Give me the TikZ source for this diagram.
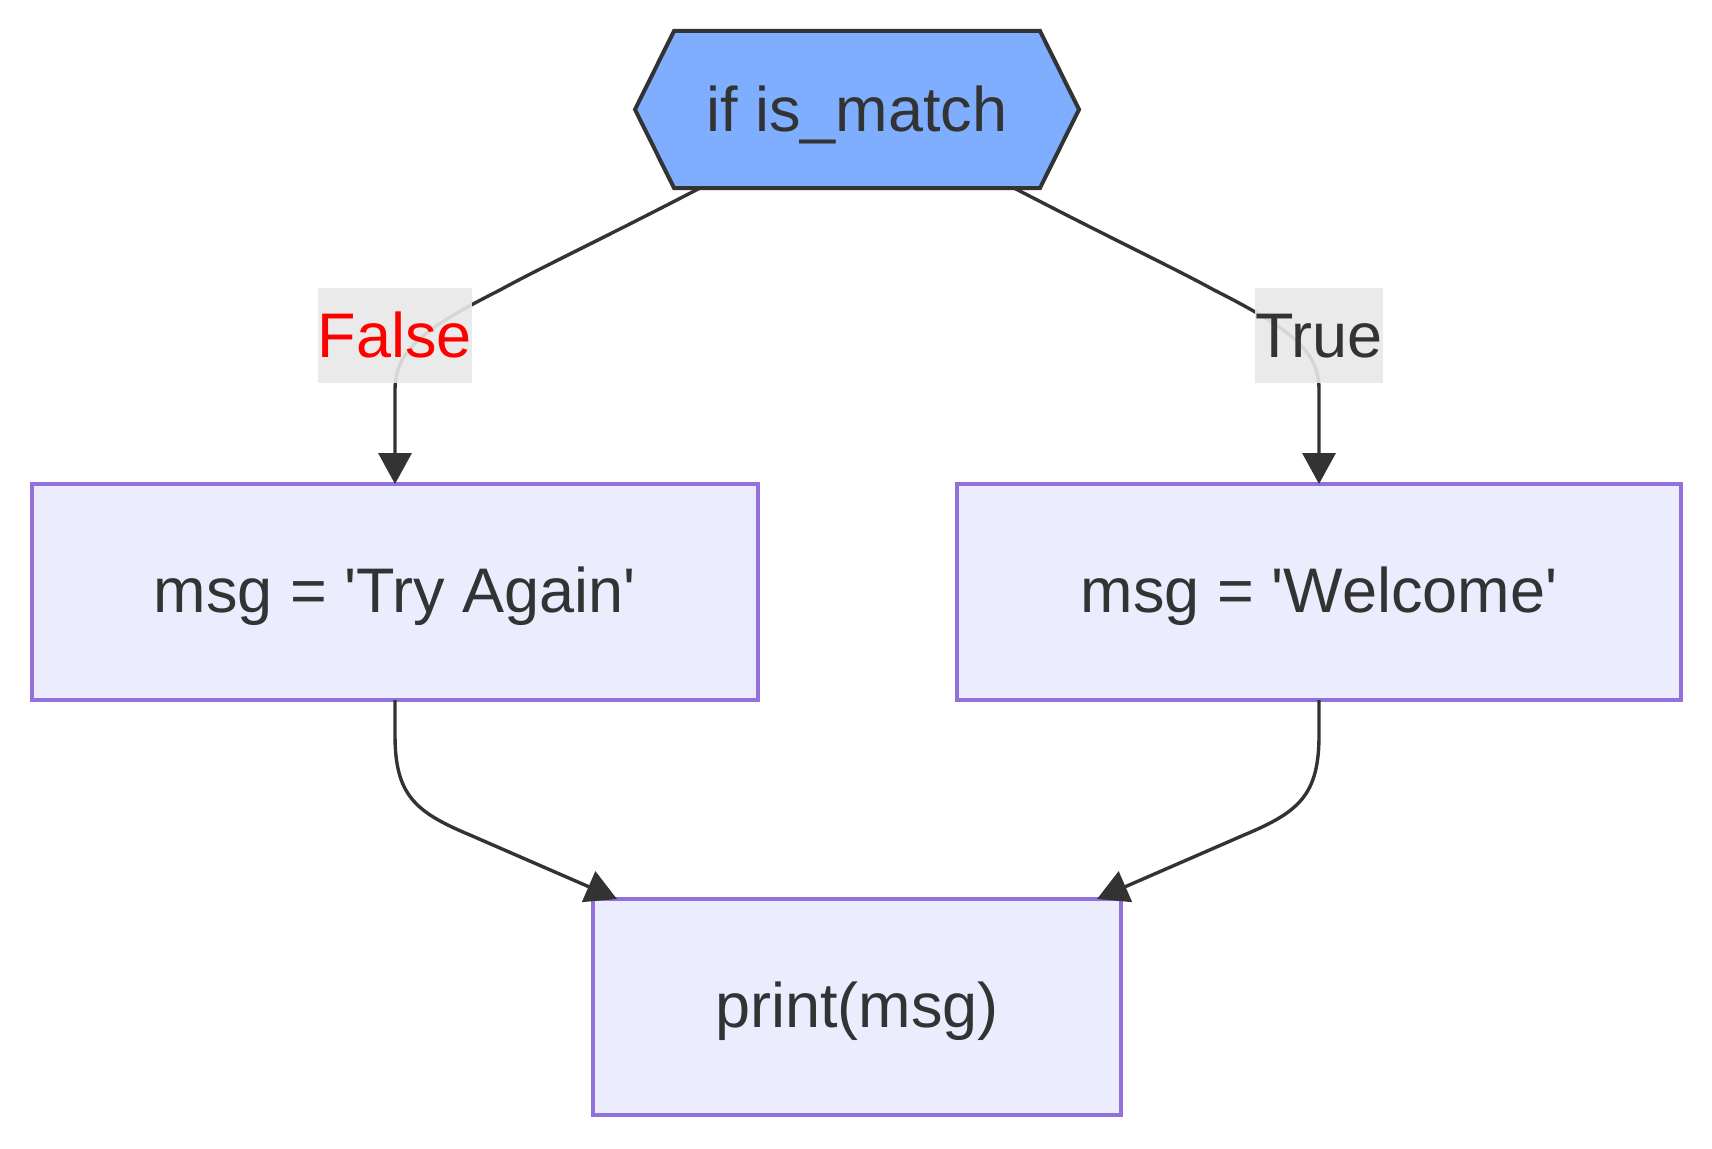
\documentclass[tikz,border=0pt]{standalone}
\usepackage{fontspec}
\setmainfont{Liberation Sans}
\usetikzlibrary{arrows.meta}
\usetikzlibrary{calc}

\definecolor{ink}{HTML}{333333}
\definecolor{boxfill}{HTML}{ECECFF}
\definecolor{boxline}{HTML}{9370DB}
\definecolor{hexfill}{HTML}{80AEFF}
\definecolor{lblfill}{HTML}{E8E8E8}

\newcommand{\sq}{\textquotesingle}

\tikzset{
	stmt/.style={draw=boxline, fill=boxfill, line width=3.3pt, minimum height=216pt, inner sep=0pt, outer sep=0pt, text=ink, text height=41pt, text depth=0pt},
	hexa/.style={draw=ink, fill=hexfill, line width=4pt, line join=miter},
	flow/.style={draw=ink, line width=3.4pt, -{Triangle[length=31pt,width=33pt]}},
	lbl/.style={fill=lblfill, fill opacity=0.9, text opacity=1, inner sep=0pt, minimum height=95pt, text height=43pt, text depth=0pt, text=ink}
}

\begin{document}
\begin{tikzpicture}[x=1pt, y=-1pt, font=\fontsize{63pt}{76pt}\selectfont]
	
	\useasboundingbox (0,0) rectangle (1712,1148);
	
	\coordinate (h1) at (635,109.5);
	\coordinate (h2) at (674,31);
	\coordinate (h3) at (1040,31);
	\coordinate (h4) at (1079,109.5);
	\coordinate (h5) at (1040,188);
	\coordinate (h6) at (674,188);
	
	\draw[hexa] (h1) -- (h2) -- (h3) -- (h4) -- (h5) -- (h6) -- cycle;
	\node[minimum width=366pt, minimum height=157pt, inner sep=0pt, outer sep=0pt, text=ink, text height=43pt, text depth=0pt] (cond) at (857,109.5) {if is\_match};
	
	\node[stmt, minimum width=726pt] (tryagain) at (395,592) {msg = \sq Try Again\sq};
	\node[stmt, minimum width=724pt] (welcome) at (1319,592) {msg = \sq Welcome\sq};
	\node[stmt, minimum width=528pt] (printmsg) at (857,1007) {print(msg)};
	
	\draw[flow] ($(cond.south west)+(26,0)$) .. controls (600,240) and (540,268) .. (500,290) .. controls (420,330.4) and (395,352) .. (395,390) -- (tryagain.north);
	\draw[flow] ($(cond.south east)+(-26,0)$) .. controls (1114,240) and (1174,268) .. (1214,290) .. controls (1294,330.4) and (1319,352) .. (1319,390) -- (welcome.north);
	
	\draw[flow] (tryagain.south) -- (395,735) .. controls (395,795) and (415,812) .. (470,835) -- ($(printmsg.north west)+(24,0)$);
	\draw[flow] (welcome.south) -- (1319,735) .. controls (1319,795) and (1299,812) .. (1244,835) -- ($(printmsg.north east)+(-24,0)$);
	
	\node[lbl, text=red] (no) at (395,335.5) {False};
	\node[lbl] (yes) at (1319,335.5) {True};
	
\end{tikzpicture}
\end{document}
